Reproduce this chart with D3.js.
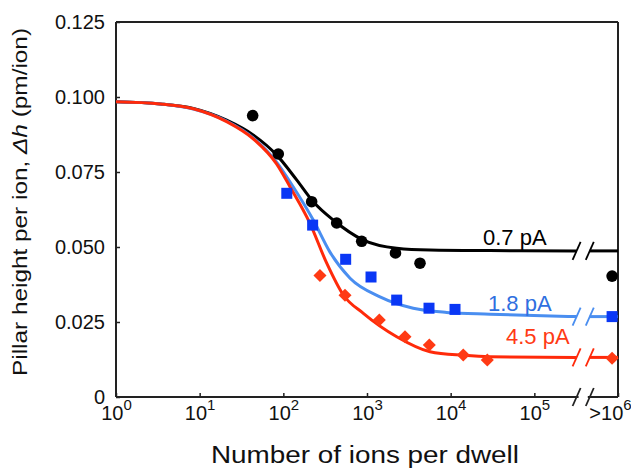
<!DOCTYPE html>
<html>
<head>
<meta charset="utf-8">
<script src="https://cdn.jsdelivr.net/npm/d3@7"></script>
<style>
  body { margin: 0; background: #fff; }
  text { font-family: "Liberation Sans", Arial, sans-serif; }
</style>
</head>
<body>
<div id="chart"></div>
<script>
// ---------- data ----------
const yTicks = [0, 0.025, 0.05, 0.075, 0.1, 0.125];
const xTicks = [1, 10, 100, 1e3, 1e4, 1e5];
const xTickExp = ["0", "1", "2", "3", "4", "5"];
const xMax = 1e6;          // right end of axis, labelled ">10^6"
const breakStart = 3.2e5;  // axis break
const breakEnd = 4.6e5;
const tailX = 8.5e5;       // where the ">10^6" points sit

// measured points
const pts07X = [43, 87, 218, 434, 864, 2190, 4300, tailX];
const pts07Y = [0.0938, 0.0810, 0.0651, 0.0580, 0.0519, 0.0480, 0.0446, 0.0403];
const pts18X = [110, 224, 556, 1117, 2264, 5510, 11270, tailX];
const pts18Y = [0.0679, 0.0573, 0.0459, 0.0400, 0.0323, 0.0296, 0.0292, 0.0268];
const pts45X = [274, 546, 1403, 2845, 5555, 14150, 27400, tailX];
const pts45Y = [0.0405, 0.0339, 0.0257, 0.0201, 0.0173, 0.0140, 0.0123, 0.0129];

// fitted curves
const fit07X = [1, 3.4, 8.4, 21, 44, 83, 145, 228, 395, 904, 2265, 5660, 29500, breakStart];
const fit07Y = [0.0984, 0.0977, 0.0962, 0.0923, 0.0873, 0.0807, 0.0723, 0.0651, 0.0590, 0.0523, 0.0496, 0.0490, 0.0488, 0.0487];
const fit18X = [1, 3.4, 8.4, 21, 44, 83, 131, 228, 361, 627, 1430, 3570, 8950, 29500, breakStart];
const fit18Y = [0.0984, 0.0977, 0.0960, 0.0920, 0.0863, 0.0783, 0.0701, 0.0590, 0.0483, 0.0396, 0.0334, 0.0296, 0.0282, 0.0276, 0.0268];
const fit45X = [1, 3.4, 8.4, 21, 44, 83, 120, 208, 330, 521, 904, 2265, 5660, 14200, 29500, breakStart];
const fit45Y = [0.0984, 0.0977, 0.0961, 0.0918, 0.0860, 0.0777, 0.0701, 0.0579, 0.0446, 0.0340, 0.0279, 0.0201, 0.0151, 0.0139, 0.0134, 0.0132];

const seriesNames = ["0.7 pA", "1.8 pA", "4.5 pA"];

// ---------- layout ----------
const margin = {top: 22, right: 13, bottom: 71, left: 116};
const width = 631 - margin.left - margin.right;   // 502
const height = 468 - margin.top - margin.bottom;  // 375

const svg = d3.select("#chart")
    .append("svg")
    .attr("width", 631)
    .attr("height", 468)
    .append("g")
    .attr("transform", `translate(${margin.left},${margin.top})`);

const x = d3.scaleLog().domain([1, xMax]).range([0, width]);
const y = d3.scaleLinear().domain([0, 0.125]).range([height, 0]);

const zip = (xs, ys) => xs.map((v, i) => ({x: v, y: ys[i]}));

const series = [
    {name: seriesNames[0], pts: zip(pts07X, pts07Y), fit: zip(fit07X, fit07Y),
     line: "#000000", mark: "#000000", text: "#000000", shape: "circle", labelX: 367, labelY: 223},
    {name: seriesNames[1], pts: zip(pts18X, pts18Y), fit: zip(fit18X, fit18Y),
     line: "#4a8ef0", mark: "#0a37f5", text: "#2f6fe0", shape: "square", labelX: 372, labelY: 289},
    {name: seriesNames[2], pts: zip(pts45X, pts45Y), fit: zip(fit45X, fit45Y),
     line: "#ff2a0a", mark: "#ff3a14", text: "#ff3a14", shape: "diamond", labelX: 390, labelY: 322}
];

// ---------- axes ----------
svg.append("g")
    .call(d3.axisLeft(y)
        .tickValues(yTicks)
        .tickSizeInner(-4)
        .tickSizeOuter(0)
        .tickPadding(11)
        .tickFormat(d => d === 0 ? "0" : d3.format(".3f")(d)))
    .call(g => g.select(".domain").remove())
    .call(g => g.selectAll("line").attr("stroke", "#222").attr("stroke-width", 1.5))
    .call(g => g.selectAll("text").attr("font-size", 20).attr("fill", "#111")
        .attr("font-family", "Liberation Sans, Arial, sans-serif"));

const xAxis = svg.append("g")
    .attr("transform", `translate(0,${height})`)
    .call(d3.axisBottom(x)
        .tickValues(xTicks.concat([xMax]))
        .tickSizeInner(-4)
        .tickSizeOuter(0)
        .tickFormat(() => ""))
    .call(g => g.select(".domain").remove())
    .call(g => g.selectAll("line").attr("stroke", "#222").attr("stroke-width", 1.5));

// tick labels 10^n
const allExp = xTickExp.concat(["6"]);
xAxis.selectAll(".tick text").each(function(d, i) {
    const t = d3.select(this)
        .attr("y", 23)
        .attr("dy", 0)
        .attr("font-size", 20)
        .attr("fill", "#111")
        .attr("font-family", "Liberation Sans, Arial, sans-serif")
        .attr("text-anchor", "middle");
    t.append("tspan").text(d === xMax ? ">10" : "10");
    t.append("tspan").attr("font-size", 15).attr("dy", -10).text(allExp[i]);
    if (d === xMax) t.attr("x", -8);
});

// frame
const frame = svg.append("g").attr("stroke", "#222").attr("stroke-width", 2).attr("fill", "none");
frame.append("line").attr("x1", 0).attr("x2", 0).attr("y1", 0).attr("y2", height);
frame.append("line").attr("x1", 0).attr("x2", width).attr("y1", 0).attr("y2", 0);
frame.append("line").attr("x1", width).attr("x2", width).attr("y1", 0).attr("y2", height);
frame.append("line").attr("x1", 0).attr("x2", x(breakStart) + 2).attr("y1", height).attr("y2", height);
frame.append("line").attr("x1", x(breakEnd) - 2).attr("x2", width).attr("y1", height).attr("y2", height);

// break slashes
function slashes(g, yy, color) {
    [breakStart, breakEnd].forEach(b => {
        g.append("line")
            .attr("x1", x(b) - 4).attr("y1", yy + 9)
            .attr("x2", x(b) + 4).attr("y2", yy - 9)
            .attr("stroke", color).attr("stroke-width", 1.8);
    });
}
slashes(svg, height, "#222");

// ---------- curves ----------
const line = d3.line()
    .x(d => x(d.x))
    .y(d => y(d.y))
    .curve(d3.curveMonotoneX);

series.forEach(s => {
    svg.append("path")
        .datum(s.fit)
        .attr("fill", "none")
        .attr("stroke", s.line)
        .attr("stroke-width", 3)
        .attr("d", line);

    const plateau = s.fit[s.fit.length - 1].y;
    svg.append("path")
        .datum([{x: breakEnd, y: plateau}, {x: xMax, y: plateau}])
        .attr("fill", "none")
        .attr("stroke", s.line)
        .attr("stroke-width", 3)
        .attr("d", line);

    slashes(svg, y(plateau), s.line);
});

// ---------- markers ----------
series.forEach(s => {
    const g = svg.append("g");
    s.pts.forEach(p => {
        const cx = x(p.x), cy = y(p.y);
        if (s.shape === "circle") {
            g.append("circle").attr("cx", cx).attr("cy", cy).attr("r", 5.8).attr("fill", s.mark);
        } else if (s.shape === "square") {
            g.append("rect").attr("x", cx - 5.5).attr("y", cy - 5.5)
                .attr("width", 11).attr("height", 11).attr("fill", s.mark);
        } else {
            g.append("path")
                .attr("d", d3.symbol().type(d3.symbolSquare).size(85)())
                .attr("transform", `translate(${cx},${cy}) rotate(45)`)
                .attr("fill", s.mark);
        }
    });

    svg.append("text")
        .attr("x", s.labelX)
        .attr("y", s.labelY)
        .attr("font-size", 22)
        .attr("fill", s.text)
        .text(s.name);
});

// ---------- axis titles ----------
svg.append("text")
    .attr("x", width / 2 - 2)
    .attr("y", height + 66)
    .attr("text-anchor", "middle")
    .attr("font-size", 23)
    .attr("textLength", 308)
    .attr("lengthAdjust", "spacingAndGlyphs")
    .attr("fill", "#111")
    .text("Number of ions per dwell");

const yTitle = svg.append("text")
    .attr("transform", "rotate(-90)")
    .attr("x", -(202 - margin.top))
    .attr("y", -margin.left + 27)
    .attr("text-anchor", "middle")
    .attr("font-size", 21)
    .attr("textLength", 348)
    .attr("lengthAdjust", "spacingAndGlyphs")
    .attr("fill", "#111");
yTitle.append("tspan").text("Pillar height per ion, ");
yTitle.append("tspan").attr("font-style", "italic").text("Δh");
yTitle.append("tspan").text(" (pm/ion)");
</script>
</body>
</html>
